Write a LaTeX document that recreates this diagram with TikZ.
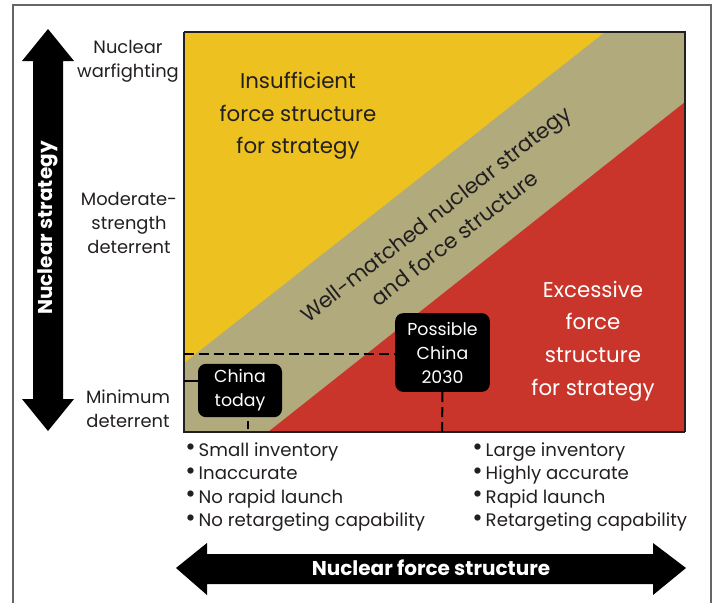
\documentclass[tikz,border=0pt]{standalone}
\usepackage{fontspec}
\setmainfont{Poppins}
\usepackage{tikz}
\usetikzlibrary{calc}

\definecolor{underyellow}{HTML}{EDC11F}
\definecolor{matchtan}{HTML}{B0AA7D}
\definecolor{overred}{HTML}{C9352A}
\definecolor{inkgray}{HTML}{231F20}

% bigger bullet for the trait lists
\newcommand{\trait}{\raisebox{0.05ex}{\scalebox{1.4}{\textbullet}}\,}

\tikzset{
  axlabel/.style={align=center, text=inkgray, inner sep=0pt,
    font=\fontsize{13.4}{18}\selectfont},
  zonelabel/.style={align=center, inner sep=0pt,
    font=\fontsize{16}{24.5}\selectfont},
  chinabox/.style={fill=black, text=white, rounded corners=6pt, align=center,
    inner sep=0pt, font=\fontsize{13}{18}\selectfont},
  bulletlist/.style={align=left, anchor=north west, inner sep=0pt, text=inkgray,
    font=\fontsize{13.6}{17.7}\selectfont},
  guide/.style={line width=1.5pt, dash pattern=on 7.5pt off 3.75pt},
}

\begin{document}
\begin{tikzpicture}[x=0.75pt,y=-0.75pt]
  \useasboundingbox (0,0) rectangle (719,603);
  % outer frame
  \draw[gray!80!black, line width=0.9pt] (13,603) -- (13,5) -- (711,5) -- (711,603);

  % corners of the chart
  \coordinate (O) at (184,432);
  \coordinate (TR) at (685,32);
  \fill[matchtan] (O) rectangle (TR);
  \fill[underyellow] (184,32) -- (605,32) -- (184,363) -- cycle;
  \fill[overred] (685,102) -- (685,432) -- (268,432) -- cycle;
  \draw[inkgray, line width=1.1pt] (184,32) -- (TR) -- (685,432);
  \draw[inkgray, line width=2.2pt] (184,32) -- (O) -- (685,432);

  % zone texts
  \node[zonelabel, text=inkgray] (under) at (298,116)
    {Insufficient\\force structure\\for strategy};
  \node[zonelabel, text=white] (over) at (593,341)
    {Excessive\\force\\structure\\for strategy};
  \node[zonelabel, text=inkgray, rotate=38, font=\fontsize{16}{23}\selectfont] (match) at (445,226)
    {Well-matched nuclear strategy\\and force structure};

  % China boxes
  \node[chinabox, minimum width=63pt, minimum height=40pt] (today) at (240,390.5)
    {China\\today};
  \node[chinabox, minimum width=71pt, minimum height=59pt] (future) at (442.5,352.5)
    {Possible\\China\\2030};

  % guide lines to the axes
  \coordinate (lvlfuture) at (184,354);
  \coordinate (lvltoday) at (184,381);
  \coordinate (xfuture) at (442,432);
  \coordinate (xtoday) at (248,432);
  \draw[guide] (lvlfuture) -- (lvlfuture -| future.west);
  \draw[guide] (future.south) -- (xfuture);
  \draw[line width=1.5pt] (lvltoday) -- (lvltoday -| today.west);
  \draw[guide, dash pattern=on 6pt off 3pt, dash phase=-3pt] (xtoday |- today.south) -- (xtoday);

  % strategy levels
  \node[axlabel] (warfight) at (128,61) {Nuclear\\warfighting};
  \node[axlabel] (moderate) at (129,223) {Moderate-\\strength\\deterrent};
  \node[axlabel] (minimum) at (128,409) {Minimum\\deterrent};

  % force structure traits
  \node[bulletlist] (small) at (185,442)
    {\trait Small inventory\\\trait Inaccurate\\\trait No rapid launch\\\trait No retargeting capability};
  \node[bulletlist] (large) at (472,442)
    {\trait Large inventory\\\trait Highly accurate\\\trait Rapid launch\\\trait Retargeting capability};

  % big axis arrows
  \fill[black] (48,29) -- (74,61) -- (63,61) -- (63,399) -- (74,399) -- (48,431)
    -- (22,399) -- (33,399) -- (33,61) -- (22,61) -- cycle;
  \node[text=white, rotate=90, font=\fontsize{15}{17}\selectfont\bfseries] (strategy) at (48,228)
    {Nuclear strategy};
  \fill[black] (176,568) -- (207,543) -- (207,554) -- (653,554) -- (653,543) -- (686,568)
    -- (653,595) -- (653,584) -- (207,584) -- (207,595) -- cycle;
  \node[text=white, font=\fontsize{15}{17}\selectfont\bfseries] (force) at (431,568)
    {Nuclear force structure};
\end{tikzpicture}
\end{document}
